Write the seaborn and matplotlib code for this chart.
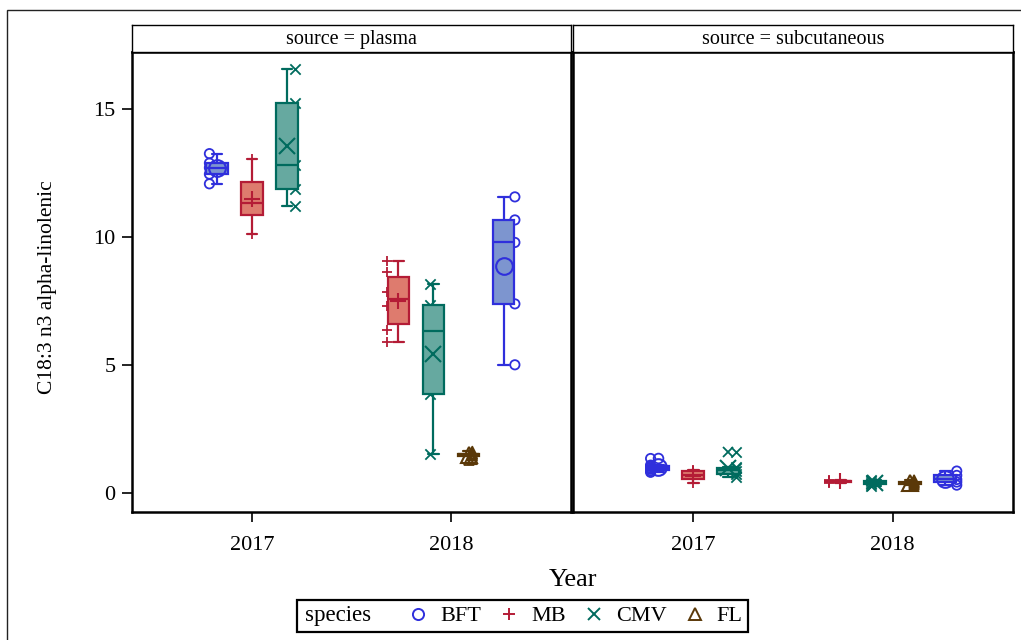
import numpy as np
import pandas as pd
import matplotlib
matplotlib.use("Agg")
import matplotlib.pyplot as plt
from matplotlib.lines import Line2D
from matplotlib.patches import Rectangle
import seaborn as sns

sns.set_theme(style="white")
plt.rcParams["font.family"] = ["Liberation Serif", "DejaVu Serif"]
plt.rcParams["text.color"] = "black"
plt.rcParams["xtick.color"] = "black"
plt.rcParams["ytick.color"] = "black"

# ---- data -------------------------------------------------------------
sources = ["plasma", "subcutaneous"]
years = [2017, 2018]
species = ["BFT", "MB", "CMV", "FL"]
# species present in each year, in drawing order
year_order = {2017: ["BFT", "MB", "CMV"], 2018: ["MB", "CMV", "FL", "BFT"]}

# C18:3 n3 alpha-linolenic (% of fatty acids)
plasma_2017_bft = [12.07, 12.45, 12.70, 12.88, 13.25]
plasma_2017_mb = [10.12, 10.84, 11.32, 12.14, 13.03]
plasma_2017_cmv = [11.22, 11.86, 12.81, 15.22, 16.56]
plasma_2018_mb = [5.88, 6.35, 7.28, 7.84, 8.61, 9.04]
plasma_2018_cmv = [1.52, 3.85, 6.34, 7.32, 8.15]
plasma_2018_fl = [1.30, 1.44, 1.50, 1.53, 1.62]
plasma_2018_bft = [5.00, 7.38, 9.78, 10.66, 11.56]

subcut_2017_bft = [0.80, 0.86, 0.92, 0.97, 1.03, 1.08, 1.34]
subcut_2017_mb = [0.40, 0.55, 0.68, 0.84, 0.88]
subcut_2017_cmv = [0.60, 0.72, 0.85, 0.95, 1.00, 1.58]
subcut_2018_mb = [0.40, 0.43, 0.45, 0.46, 0.49]
subcut_2018_cmv = [0.28, 0.33, 0.38, 0.45, 0.50]
subcut_2018_fl = [0.30, 0.36, 0.40, 0.44, 0.50]
subcut_2018_bft = [0.30, 0.42, 0.52, 0.68, 0.85]

groups = {
    ("plasma", 2017, "BFT"): plasma_2017_bft,
    ("plasma", 2017, "MB"): plasma_2017_mb,
    ("plasma", 2017, "CMV"): plasma_2017_cmv,
    ("plasma", 2018, "MB"): plasma_2018_mb,
    ("plasma", 2018, "CMV"): plasma_2018_cmv,
    ("plasma", 2018, "FL"): plasma_2018_fl,
    ("plasma", 2018, "BFT"): plasma_2018_bft,
    ("subcutaneous", 2017, "BFT"): subcut_2017_bft,
    ("subcutaneous", 2017, "MB"): subcut_2017_mb,
    ("subcutaneous", 2017, "CMV"): subcut_2017_cmv,
    ("subcutaneous", 2018, "MB"): subcut_2018_mb,
    ("subcutaneous", 2018, "CMV"): subcut_2018_cmv,
    ("subcutaneous", 2018, "FL"): subcut_2018_fl,
    ("subcutaneous", 2018, "BFT"): subcut_2018_bft,
}

rows = []
for (src, yr, sp), vals in groups.items():
    for v in vals:
        rows.append({"source": src, "Year": yr, "species": sp, "value": v})
df = pd.DataFrame(rows)

# ---- styling ------------------------------------------------------------
edge = {"BFT": "#2f2fdc", "MB": "#b41c36", "CMV": "#006b5e", "FL": "#5a3808"}
fill = {"BFT": "#7d95cf", "MB": "#de7b6e", "CMV": "#66a9a0", "FL": "#b8996a"}
marker = {"BFT": "o", "MB": "+", "CMV": "x", "FL": "^"}
hollow = {"o", "^"}

BOX_STEP = 0.176    # spacing between boxes inside a year
PT_STEP = 0.214     # spacing between the point columns inside a year
BOX_W = 0.11

W, H = 1021, 640
fig = plt.figure(figsize=(W / 100, H / 100), dpi=100)
fig.patch.set_facecolor("white")

ax_top, ax_bot = 52, 512
panel_px = {"plasma": (132, 571), "subcutaneous": (573, 1013)}
axes = {}
for src in sources:
    x0, x1 = panel_px[src]
    ax = fig.add_axes([x0 / W, 1 - ax_bot / H, (x1 - x0) / W, (ax_bot - ax_top) / H])
    axes[src] = ax
    # header strip
    hx = fig.add_axes([x0 / W, 1 - ax_top / H, (x1 - x0) / W, 27 / H])
    hx.set_xticks([]); hx.set_yticks([])
    for s in hx.spines.values():
        s.set_linewidth(1.0); s.set_color("black")
    hx.text(0.5, 0.45, f"source = {src}", ha="center", va="center",
            fontsize=14.5, transform=hx.transAxes)

for (src, yr, sp), g in df.groupby(["source", "Year", "species"]):
    ax = axes[src]
    order = year_order[yr]
    slot = order.index(sp) - (len(order) - 1) / 2
    bx = yr + slot * BOX_STEP
    px = yr + slot * PT_STEP
    vals = g["value"].to_numpy()
    m = marker[sp]
    # individual observations
    if m in hollow:
        sns.scatterplot(x=np.full(len(vals), px), y=vals, marker=m, s=45,
                        facecolor="none", edgecolor=edge[sp], linewidth=1.3,
                        ax=ax, zorder=1, legend=False)
    else:
        sns.scatterplot(x=np.full(len(vals), px), y=vals, marker=m, s=55,
                        color=edge[sp], linewidth=1.3, ax=ax, zorder=1,
                        legend=False)
    # box with mean marker and outliers
    sns.boxplot(x=np.full(len(vals), bx), y=vals, native_scale=True, orient="x",
                width=BOX_W, color=fill[sp], linecolor=edge[sp], linewidth=1.6,
                saturation=1, whis=1.5, showmeans=True,
                meanprops=dict(marker=m, markersize=12, markerfacecolor="none",
                               markeredgecolor=edge[sp], markeredgewidth=1.5),
                flierprops=dict(marker=m, markersize=7, markerfacecolor="none",
                                markeredgecolor=edge[sp], markeredgewidth=1.3),
                ax=ax)

for src in sources:
    ax = axes[src]
    ax.set_xlim(2016.397, 2018.603)
    ax.set_ylim(-0.75, 17.22)
    ax.set_xticks(years)
    ax.set_xticklabels([str(y) for y in years])
    ax.set_xlabel("")
    ax.set_ylabel("")
    for s in ax.spines.values():
        s.set_linewidth(1.8); s.set_color("black")
    ax.tick_params(axis="x", direction="out", length=7, width=1.2, pad=10,
                   labelsize=16, bottom=True, colors="black")
    ax.grid(False)
    if src == "plasma":
        ax.set_yticks([0, 5, 10, 15])
        ax.tick_params(axis="y", direction="out", length=7, width=1.2, pad=5,
                       labelsize=16, left=True, colors="black")
    else:
        ax.set_yticks([])

fig.text(48 / W, 1 - 287 / H, "C18:3 n3 alpha-linolenic", rotation=90,
         ha="center", va="center", fontsize=15.5)
fig.text(573 / W, 1 - 580 / H, "Year", ha="center", va="center", fontsize=19)

# legend
fig.add_artist(Rectangle((297 / W, 1 - 632 / H), 451 / W, 32 / H,
                         transform=fig.transFigure, fill=False, lw=1.6,
                         ec="black"))
fig.text(305 / W, 1 - 616 / H, "species", ha="left", va="center", fontsize=16.5)
handles = [Line2D([], [], linestyle="none", marker=marker[sp],
                  markersize=8, markerfacecolor="none",
                  markeredgecolor=edge[sp], markeredgewidth=1.4)
           for sp in species]
fig.legend(handles, species, ncol=4, loc="center",
           bbox_to_anchor=(575 / W, 1 - 616 / H), frameon=False, fontsize=16,
           handlelength=1.0, handletextpad=0.5, columnspacing=0.75,
           borderpad=0.1)

# outer frame
fig.add_artist(Rectangle((7 / W, -0.2), 1.5, 1.2 - 10 / H,
                         transform=fig.transFigure, fill=False, lw=1.0,
                         ec="#222222"))

fig.savefig("out.png", dpi=100)
